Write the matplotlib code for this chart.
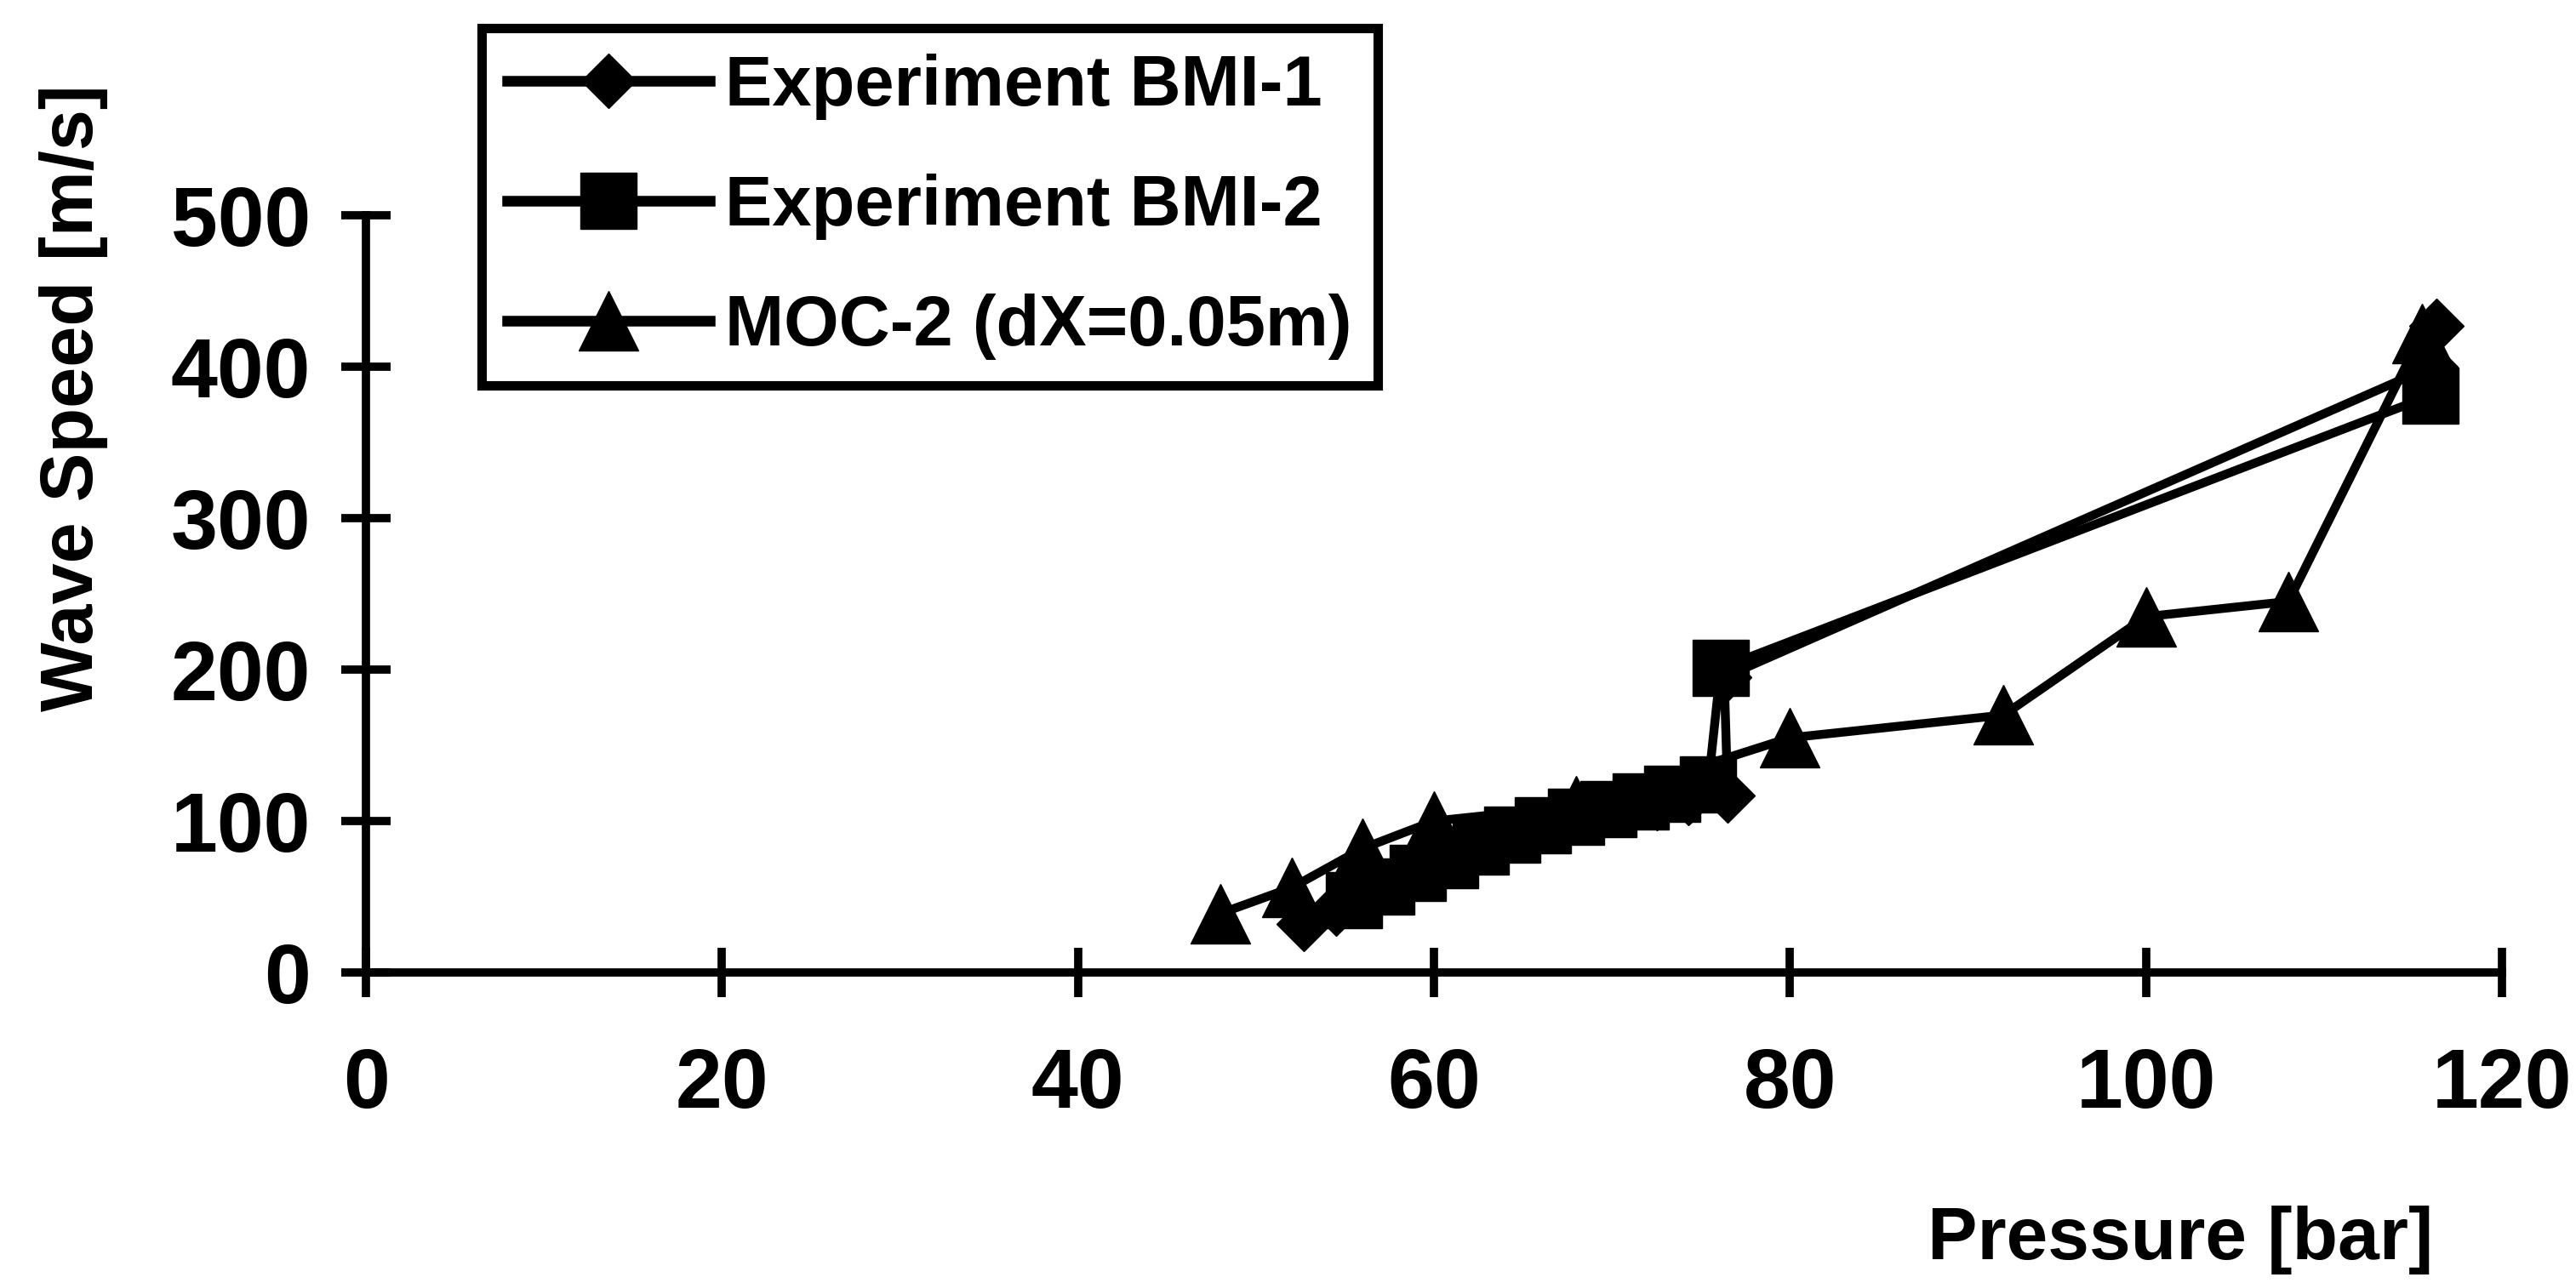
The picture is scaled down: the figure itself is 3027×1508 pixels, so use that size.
import matplotlib
matplotlib.use("Agg")
import matplotlib.pyplot as plt
from matplotlib import font_manager

plt.rcParams['font.family'] = ['Liberation Sans', 'DejaVu Sans']
plt.rcParams['font.weight'] = 'bold'

# Experiment BMI-1 (diamonds)
p_bmi1 = [52.7, 54.5, 56.3, 58.1, 59.9, 61.7, 63.5, 65.3, 67.1, 68.9, 70.7, 72.5, 74.3, 76.5, 76.3, 116.0, 116.3]
v_bmi1 = [32, 42, 51, 60, 69, 78, 86, 92, 98, 103, 108, 112, 115, 117, 195, 400, 427]

# Experiment BMI-2 (squares)
p_bmi2 = [55.5, 57.3, 59.1, 60.9, 62.6, 64.4, 66.1, 68.0, 69.8, 71.6, 73.4, 75.4, 76.1, 116.0]
v_bmi2 = [48, 57, 66, 74, 83, 91, 97, 103, 108, 113, 118, 124, 201, 381]

# MOC-2 (dX=0.05m) (triangles)
p_moc = [48, 52, 56, 60, 68, 80, 92, 100, 108, 115.5]
v_moc = [39, 56, 82, 100, 110, 155, 170, 235, 245, 422]

# condensed face for the labels, if the narrow Liberation face is there
try:
    font_manager.findfont(font_manager.FontProperties(family='Liberation Sans Narrow', weight='bold'),
                          fallback_to_default=False)
    lab_family, k = ['Liberation Sans Narrow', 'DejaVu Sans'], 1.0
except ValueError:
    lab_family, k = ['Liberation Sans', 'DejaVu Sans'], 0.82

fig = plt.figure(figsize=(30.27, 15.08), dpi=100)
ax = fig.add_axes([0.1421, 0.2420, 0.8292, 0.5902])

lw = 7.5
ax.plot(p_bmi1, v_bmi1, color='black', lw=lw, marker='D', ms=33,
        label='Experiment BMI-1', clip_on=False)
ax.plot(p_bmi2, v_bmi2, color='black', lw=lw, marker='s', ms=47,
        label='Experiment BMI-2', clip_on=False)
ax.plot(p_moc, v_moc, color='black', lw=lw, marker='^', ms=50,
        label='MOC-2 (dX=0.05m)', clip_on=False)

ax.set_xlim(0, 120)
ax.set_ylim(0, 500)
ax.set_xticks(range(0, 121, 20))
ax.set_yticks(range(0, 501, 100))
for s in ['top', 'right']:
    ax.spines[s].set_visible(False)
for s in ['left', 'bottom']:
    ax.spines[s].set_linewidth(7)
ax.tick_params(axis='x', direction='inout', length=42, width=7, pad=42, labelsize=71)
ax.tick_params(axis='y', direction='inout', length=42, width=7, pad=26, labelsize=71)
for lab in ax.get_xticklabels() + ax.get_yticklabels():
    lab.set_fontweight('bold')

fig.text(2562 / 3027, 1 - 1457 / 1508, 'Pressure [bar]', ha='center', va='center',
         fontsize=77 * k, fontweight='bold', family=lab_family)
fig.text(87 / 3027, 1 - 468 / 1508, 'Wave Speed [m/s]', ha='center', va='center',
         rotation=90, fontsize=76 * k, fontweight='bold', family=lab_family)

leg_fs = 73 * k
fs_px = leg_fs * 100 / 72
leg = ax.legend(loc='upper left', bbox_to_anchor=(566 / 3027, 1 - 33 / 1508),
                bbox_transform=fig.transFigure, numpoints=1,
                prop={'family': lab_family, 'weight': 'bold', 'size': leg_fs},
                handlelength=238 / fs_px, handletextpad=18 / fs_px,
                labelspacing=(141 - 0.94 * fs_px) / fs_px, borderpad=30 / fs_px,
                borderaxespad=0, fancybox=False, framealpha=1, edgecolor='black')
leg.get_frame().set_linewidth(8)
for line in leg.get_lines():
    line.set_linewidth(9)

fig.savefig('out.png', dpi=100, facecolor='white')
